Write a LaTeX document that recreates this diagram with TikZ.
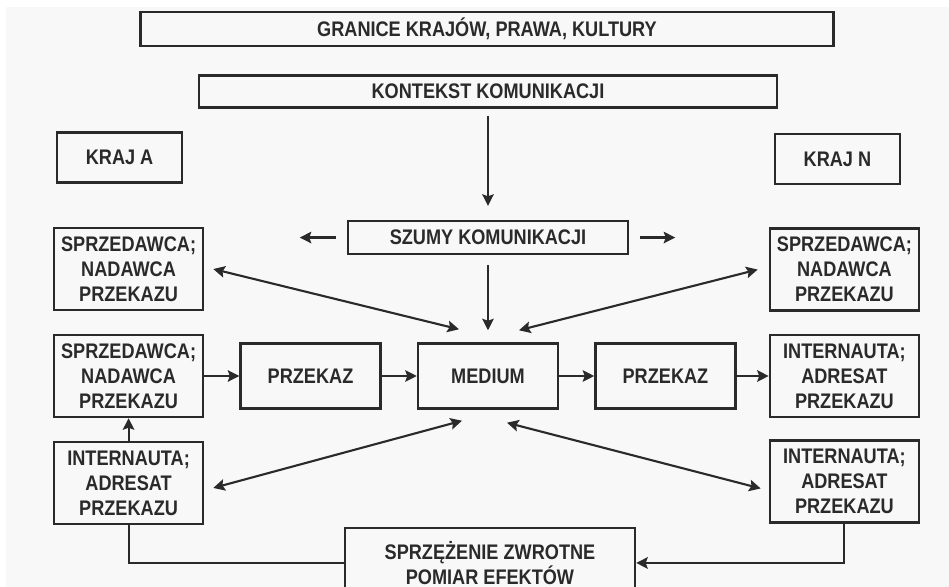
\documentclass[tikz,border=0pt]{standalone}
\usepackage{fontspec}
\setmainfont{Liberation Sans}
\newfontfamily\napis{Liberation Sans}[FakeStretch=0.86]
\usepackage{xcolor}
\usetikzlibrary{arrows.meta,positioning}
\definecolor{tlo}{HTML}{F8F8F8}
\definecolor{linia}{HTML}{2A2A2A}

\begin{document}
\begin{tikzpicture}[node distance=7mm and 7mm,
  blok/.style={rectangle,draw=linia,line width=1.4pt,align=center,text=linia,
               font=\napis\bfseries\fontsize{12}{14.2}\selectfont,inner sep=2pt},
  strona/.style={blok,minimum width=29.8mm,minimum height=16.4mm},
  srodek/.style={blok,minimum width=28mm,minimum height=13mm},
  pas/.style={blok,minimum height=6.6mm},
  kraj/.style={blok,minimum width=25mm,minimum height=10mm},
  strz/.style={-{Stealth[length=2.3mm,width=2.3mm,inset=0.4mm]},line width=1.2pt,draw=linia},
  dwa/.style={{Stealth[length=2.3mm,width=2.3mm,inset=0.4mm]}-{Stealth[length=2.3mm,width=2.3mm,inset=0.4mm]},
              line width=1.2pt,draw=linia}]
% tlo i wymiary
\useasboundingbox (-97.6mm,75.2mm) rectangle (92.2mm,-42.2mm);
\fill[tlo] (-96.4mm,73.8mm) rectangle (92.2mm,-42.2mm);
% rzad srodkowy
\node[srodek] (medium) {MEDIUM};
\node[srodek,left=7mm of medium]  (przl) {PRZEKAZ};
\node[strona,left=7mm of przl]    (nadl) {SPRZEDAWCA;\\NADAWCA\\PRZEKAZU};
\node[srodek,right=7mm of medium] (przr) {PRZEKAZ};
\node[strona,right=6.4mm of przr] (adrr) {INTERNAUTA;\\ADRESAT\\PRZEKAZU};
% boki
\node[strona,above=4.5mm of nadl] (nadlg) {SPRZEDAWCA;\\NADAWCA\\PRZEKAZU};
\node[strona,below=4.5mm of nadl] (adrl)  {INTERNAUTA;\\ADRESAT\\PRZEKAZU};
\node[strona,above=4.4mm of adrr] (nadrg) {SPRZEDAWCA;\\NADAWCA\\PRZEKAZU};
\node[strona,below=4.2mm of adrr] (adrrd) {INTERNAUTA;\\ADRESAT\\PRZEKAZU};
% gora
\node[pas,minimum width=56mm,above=17.4mm of medium] (szumy) {SZUMY KOMUNIKACJI};
\node[pas,minimum width=115.6mm,minimum height=6.4mm,above=22.2mm of szumy] (kontekst)
  {KONTEKST KOMUNIKACJI};
\node[pas,minimum width=138.6mm,minimum height=6.8mm,above=5.4mm of kontekst,xshift=-0.2mm] (granice)
  {GRANICE KRAJÓW, PRAWA, KULTURY};
\node[kraj,above=8.6mm of nadlg,xshift=-1.8mm] (kraja) {KRAJ A};
\node[kraj,above=8.4mm of nadrg,xshift=-1.4mm] (krajn) {KRAJ N};
% dol
\node[blok,minimum width=58mm,minimum height=14mm,below=23.4mm of medium,xshift=0.4mm] (zwrot)
  {SPRZĘŻENIE ZWROTNE\\POMIAR EFEKTÓW};
% strzalki
\coordinate[left=2.2mm of szumy]  (szl1);
\coordinate[left=9.4mm of szumy]  (szl2);
\coordinate[right=2.2mm of szumy] (szr1);
\coordinate[right=9.2mm of szumy] (szr2);
\draw[strz] (szl1) -- (szl2);
\draw[strz] (szr1) -- (szr2);
\draw[strz,shorten <=1.4mm,shorten >=2.8mm] (kontekst) -- (szumy);
\draw[strz,shorten <=2mm,shorten >=2.4mm] (szumy) -- (medium);
\draw[strz] (nadl) -- (przl);
\draw[strz] (przl) -- (medium);
\draw[strz] (medium) -- (przr);
\draw[strz] (przr) -- (adrr);
\draw[strz] (adrl) -- (nadl);
\draw[dwa] ([xshift=1.8mm]nadlg.east) -- ([xshift=-5.8mm,yshift=2.6mm]medium.north);
\draw[dwa] ([xshift=6.2mm,yshift=2.4mm]medium.north) -- ([xshift=-2.2mm]nadrg.west);
\draw[dwa] ([xshift=1.8mm,yshift=-1mm]adrl.east) -- ([xshift=-5.2mm,yshift=-2.2mm]medium.south);
\draw[dwa] ([xshift=3.8mm,yshift=-2.6mm]medium.south) -- ([xshift=-1.6mm,yshift=-1.4mm]adrrd.west);
% sprzezenie zwrotne
\draw[line width=1.2pt,draw=linia] (adrl.south) |- (zwrot.west);
\draw[strz] (adrrd.south) |- (zwrot.east);
\end{tikzpicture}
\end{document}
